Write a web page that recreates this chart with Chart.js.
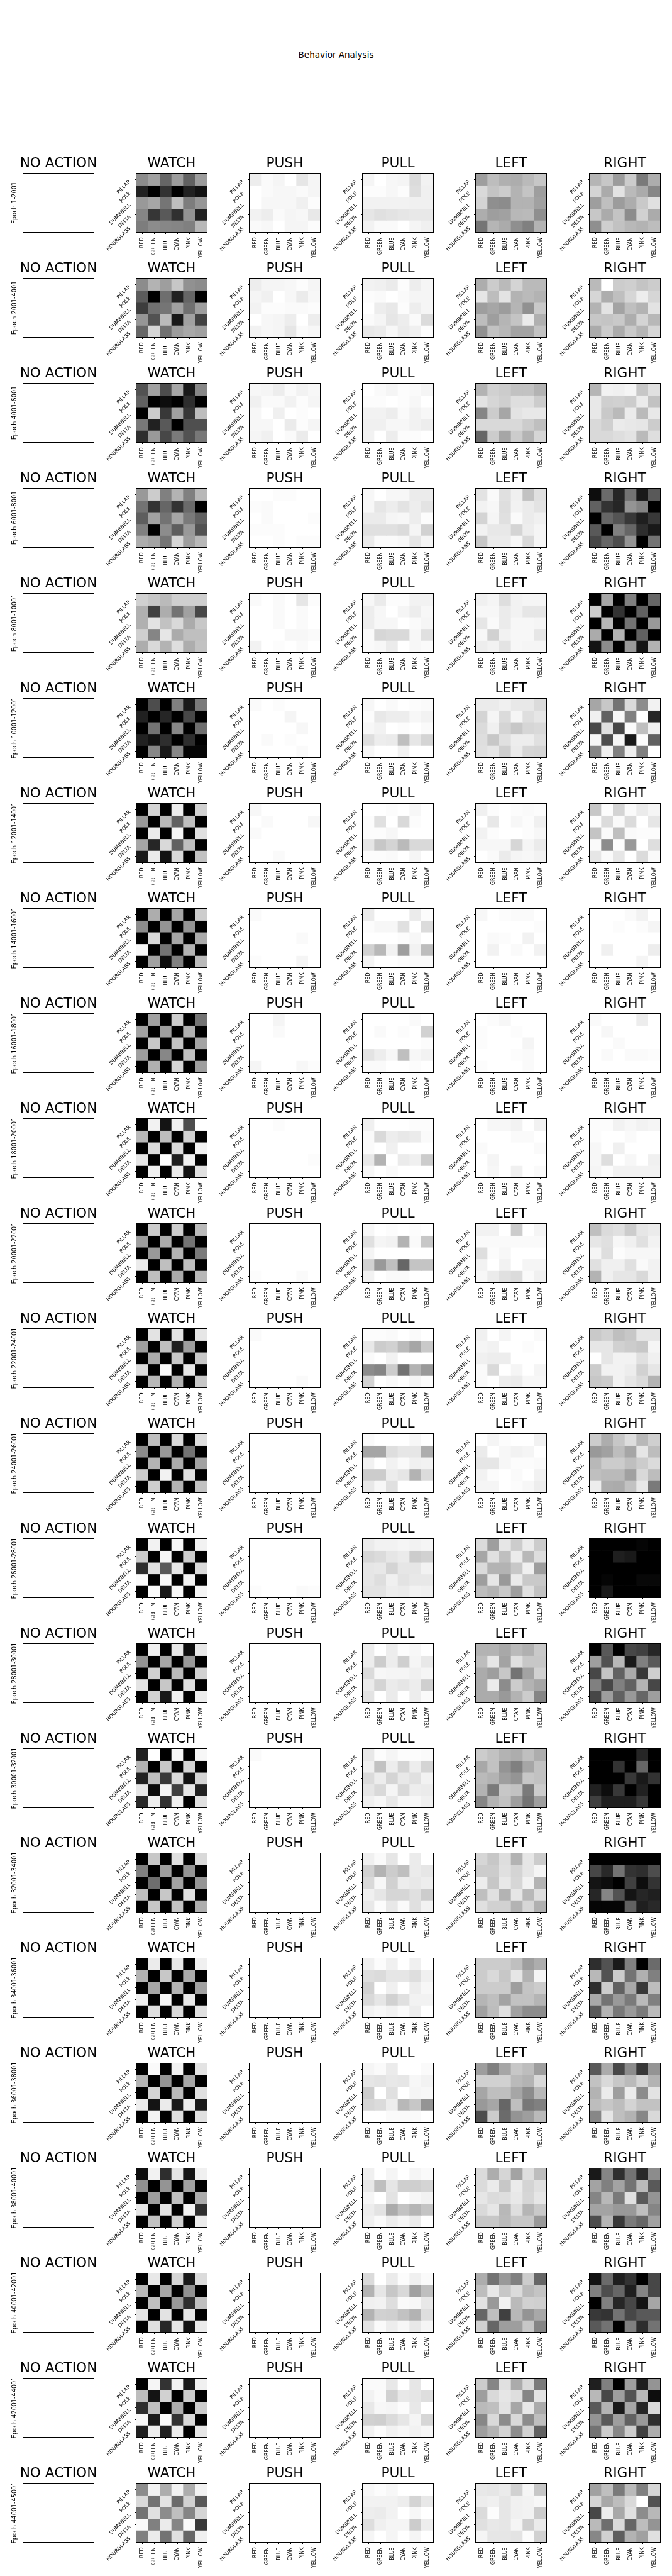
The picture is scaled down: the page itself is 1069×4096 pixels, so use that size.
<!DOCTYPE html>
<html>
<head>
<meta charset="utf-8">
<title>Behavior Analysis</title>
<script src="https://cdn.jsdelivr.net/npm/chart.js@4"></script>
<style>
  html, body { margin: 0; background: #fff; }
  #page { position: relative; width: 1069px; height: 4096px; overflow: hidden; }
  #page canvas { position: absolute; }
  #heading { position: absolute; left: 0; width: 1069px; top: 79px; text-align: center; color: #000;
    font: 13.5px/16px "DejaVu Sans", sans-serif; }
</style>
</head>
<body>
<div id="page"><div id="heading">Behavior Analysis</div></div>
<script>
const actions = ["NO ACTION", "WATCH", "PUSH", "PULL", "LEFT", "RIGHT"];
const colorLabels = ["RED", "GREEN", "BLUE", "CYAN", "PINK", "YELLOW"];
const shapeLabels = ["PILLAR", "POLE", "DUMBBELL", "DELTA", "HOURGLASS"];
const epochLabels = ["Epoch 1-2001", "Epoch 2001-4001", "Epoch 4001-6001", "Epoch 6001-8001", "Epoch 8001-10001",
  "Epoch 10001-12001", "Epoch 12001-14001", "Epoch 14001-16001", "Epoch 16001-18001", "Epoch 18001-20001",
  "Epoch 20001-22001", "Epoch 22001-24001", "Epoch 24001-26001", "Epoch 26001-28001", "Epoch 28001-30001",
  "Epoch 30001-32001", "Epoch 32001-34001", "Epoch 34001-36001", "Epoch 36001-38001", "Epoch 38001-40001",
  "Epoch 40001-42001", "Epoch 42001-44001", "Epoch 44001-45001"];

// darkness of each cell, 0 = white, 100 = black, one line per epoch, shape by shape
const noActionValues = [0,0,0,0,0,0, 0,0,0,0,0,0, 0,0,0,0,0,0, 0,0,0,0,0,0, 0,0,0,0,0,0];

const watchValues = [
  [45,37,60,39,62,39, 87,100,80,100,87,93, 40,35,54,25,51,41, 48,79,65,81,42,87, 51,45,47,48,50,28],
  [45,30,38,22,43,45, 64,100,57,87,60,100, 76,56,54,37,56,38, 41,68,27,90,37,74, 60,16,56,39,34,37],
  [68,37,70,35,90,47, 62,100,95,100,82,100, 100,20,78,37,78,26, 53,87,65,100,69,69, 82,40,72,52,68,53],
  [40,20,50,30,50,28, 55,80,60,80,58,100, 63,37,55,35,52,62, 50,100,45,63,40,68, 32,36,54,16,38,28],
  [18,22,27,19,19,19, 31,75,32,55,37,72, 31,11,24,15,33,22, 19,48,10,33,25,25, 32,15,30,13,32,24],
  [100,70,100,50,90,52, 87,100,85,100,72,100, 100,55,100,47,100,57, 87,93,82,100,82,100, 100,47,90,47,98,98],
  [100,17,100,7,100,18, 40,100,28,62,25,100, 100,8,100,4,100,12, 35,85,15,62,25,100, 90,8,93,15,100,24],
  [100,32,100,35,100,20, 45,100,42,100,42,100, 100,15,100,35,100,33, 3,100,55,100,30,100, 100,37,95,50,100,27],
  [100,37,100,20,100,55, 37,100,38,100,31,100, 100,22,100,23,100,36, 38,100,47,100,24,100, 100,31,100,17,100,38],
  [100,5,92,5,70,0, 28,100,26,100,18,100, 100,14,100,14,100,5, 10,100,0,88,6,100, 100,6,100,8,93,12],
  [100,20,100,20,100,27, 38,100,33,100,55,100, 100,40,100,30,100,52, 8,100,25,100,25,100, 100,25,100,33,100,28],
  [100,11,100,11,100,10, 38,100,25,88,38,100, 100,33,100,22,100,22, 14,100,2,100,10,100, 100,28,100,30,100,22],
  [100,25,100,15,100,13, 45,100,40,100,55,100, 100,30,100,33,100,37, 20,100,5,100,12,100, 100,19,100,30,100,24],
  [100,5,100,3,100,5, 20,100,4,100,20,100, 82,12,65,10,100,15, 2,100,2,100,5,100, 100,2,90,3,100,4],
  [100,6,100,9,95,9, 42,100,35,100,40,100, 100,18,100,27,100,18, 11,100,22,100,13,100, 100,18,90,6,100,7],
  [87,0,100,3,100,3, 30,100,22,100,17,100, 87,25,78,15,93,17, 10,96,4,75,10,87, 84,7,80,6,100,12],
  [100,22,100,12,100,15, 50,100,38,100,42,100, 100,57,100,37,100,42, 25,100,22,100,12,100, 100,22,100,24,100,32],
  [100,8,100,9,100,6, 30,100,22,100,33,100, 100,35,100,30,100,37, 7,100,4,100,9,100, 100,13,100,15,100,12],
  [100,2,100,5,100,11, 30,100,42,100,35,100, 100,17,100,27,100,12, 7,92,8,90,7,90, 100,5,100,13,100,12],
  [95,5,82,11,92,6, 43,100,42,100,37,100, 100,38,100,25,100,33, 10,100,11,100,5,82, 100,24,100,18,100,8],
  [100,9,100,16,90,14, 28,100,35,100,43,100, 100,25,100,40,82,25, 10,100,11,100,10,100, 100,12,85,10,92,8],
  [100,4,80,5,90,6, 26,92,18,100,20,100, 82,25,100,32,100,20, 3,90,2,80,15,100, 88,7,87,7,100,10],
  [45,5,32,5,32,5, 15,55,11,58,18,65, 55,12,45,25,48,17, 2,50,8,48,2,78, 50,8,55,12,60,6]
];

const pushValues = [
  [7,2,4,0,10,4, 0,2,3,3,2,4, 0,3,3,3,6,1, 5,7,2,4,3,9, 2,3,0,4,4,1],
  [7,4,4,3,1,4, 4,6,0,3,8,3, 5,1,1,2,2,1, 0,3,4,7,0,7, 5,3,4,10,2,3],
  [3,4,7,2,5,3, 6,2,2,5,1,4, 3,0,6,0,1,0, 3,3,0,8,1,4, 4,6,0,2,8,0],
  [0,0,1,1,0,0, 1,2,0,0,0,0, 0,2,0,0,0,1, 1,1,1,0,0,0, 0,0,1,0,1,1],
  [2,0,2,0,10,1, 0,0,2,0,2,0, 0,0,2,0,2,0, 0,0,0,3,3,2, 5,0,1,0,2,0],
  [2,0,1,0,0,0, 0,0,0,4,0,0, 0,0,0,0,3,0, 0,2,0,1,0,0, 0,0,0,0,2,0],
  [3,0,0,0,0,0, 0,2,0,0,0,3, 2,0,0,0,0,0, 0,0,0,0,0,0, 0,0,2,0,0,0],
  [2,0,0,0,0,0, 0,0,0,0,0,0, 0,0,0,0,2,0, 0,0,0,0,0,0, 1,0,0,0,4,0],
  [0,0,4,0,0,0, 0,0,2,0,0,0, 0,0,0,0,0,0, 0,0,0,0,0,0, 4,0,0,0,3,1],
  [0,0,1,0,0,0, 0,0,0,0,0,0, 0,0,0,0,0,0, 0,0,0,0,0,1, 0,0,0,0,0,0],
  [0,0,0,0,0,0, 0,0,0,0,0,0, 0,0,0,0,0,0, 0,0,0,0,0,0, 1,0,0,0,2,0],
  [2,0,0,0,0,0, 0,0,0,0,0,0, 0,0,0,0,0,0, 0,0,0,0,0,0, 0,0,0,0,2,0],
  [0,0,0,0,0,0, 0,0,0,0,0,0, 0,0,0,0,0,0, 0,0,0,0,0,0, 0,0,0,0,0,0],
  [0,0,0,0,0,0, 0,0,0,0,0,0, 0,0,0,0,0,0, 0,0,0,0,0,0, 1,0,0,0,2,1],
  [0,0,0,0,0,0, 0,0,0,0,0,0, 0,0,0,0,0,0, 0,0,0,0,0,0, 0,0,0,0,0,0],
  [2,0,0,0,0,0, 0,0,0,0,0,0, 0,0,0,0,0,0, 0,0,0,0,0,0, 0,0,0,0,0,0],
  [0,0,0,0,0,0, 0,0,0,0,0,0, 0,0,0,0,0,0, 0,0,0,0,0,0, 0,0,0,0,0,0],
  [0,0,0,0,0,0, 0,0,0,0,0,0, 0,0,0,0,0,0, 0,0,0,0,0,0, 0,0,0,0,0,0],
  [0,0,0,0,0,0, 0,0,0,0,0,0, 0,0,0,0,0,0, 0,0,0,0,0,0, 0,0,0,0,0,0],
  [0,0,0,0,0,0, 0,0,0,0,0,0, 0,0,0,0,0,0, 0,0,0,0,0,0, 0,0,0,0,0,0],
  [0,0,0,0,0,0, 0,0,0,0,0,0, 0,0,0,0,0,0, 0,0,0,0,0,0, 0,0,0,0,0,0],
  [0,0,0,0,0,0, 0,0,0,0,0,0, 0,0,0,0,0,0, 0,0,0,0,0,0, 0,0,0,0,0,0],
  [0,0,0,0,0,0, 0,0,0,0,0,0, 0,0,0,0,0,0, 0,0,0,0,0,0, 0,0,0,0,0,0]
];

const pullValues = [
  [4,0,3,4,14,5, 1,1,3,1,13,6, 5,5,5,5,6,6, 10,12,11,10,9,9, 5,2,2,0,4,6],
  [5,6,8,1,7,4, 1,2,0,2,4,4, 0,7,9,1,7,4, 2,4,10,7,2,14, 9,8,3,8,6,1],
  [0,2,4,1,2,4, 1,1,0,1,3,0, 5,5,7,2,5,3, 6,6,3,3,5,7, 5,0,7,1,1,0],
  [3,0,3,3,8,8, 3,10,7,11,7,11, 8,8,4,3,7,1, 12,12,12,14,4,18, 8,2,2,3,10,4],
  [3,8,1,1,5,5, 7,3,0,4,7,3, 7,3,3,0,2,4, 2,16,15,15,3,12, 2,3,8,0,3,2],
  [3,0,2,0,1,2, 1,9,7,7,3,5, 3,5,0,1,0,2, 13,7,8,25,10,17, 3,0,0,5,0,0],
  [0,0,1,0,3,0, 1,12,0,15,1,0, 1,1,3,0,0,0, 10,22,17,27,15,15, 1,1,2,0,4,0],
  [8,0,0,0,8,1, 1,3,3,12,0,14, 0,0,0,1,3,0, 18,28,5,38,5,26, 4,0,0,1,2,2],
  [0,0,0,0,2,0, 0,2,0,1,0,18, 0,0,0,0,0,1, 11,7,3,25,3,5, 2,2,0,0,1,0],
  [6,0,0,0,1,1, 2,15,7,9,8,2, 2,0,6,0,0,0, 9,30,0,8,6,20, 3,0,2,0,0,0],
  [3,0,1,0,1,0, 12,4,5,30,2,22, 4,0,0,0,0,0, 18,40,25,60,23,23, 5,0,2,2,0,0],
  [1,1,2,0,2,0, 9,20,18,27,35,21, 2,0,5,0,0,0, 45,48,20,55,30,40, 17,0,2,0,4,1],
  [2,0,0,0,3,0, 35,35,13,10,10,32, 5,0,5,2,6,5, 20,20,7,10,30,14, 9,3,12,0,0,0],
  [8,5,5,4,5,4, 16,14,10,8,20,18, 10,9,17,10,10,5, 10,13,6,11,9,9, 11,11,7,8,5,6],
  [7,0,7,1,3,0, 7,20,7,19,4,9, 14,3,4,4,6,4, 8,17,8,10,7,19, 11,0,8,0,7,2],
  [9,1,4,1,1,2, 6,24,7,17,7,17, 14,7,17,9,12,5, 10,15,4,15,7,8, 6,3,9,3,3,6],
  [6,2,10,0,8,0, 18,30,20,25,8,10, 15,3,18,7,9,7, 6,10,16,16,12,20, 9,1,9,2,12,5],
  [6,1,6,0,6,0, 13,14,10,10,13,6, 18,0,6,0,7,3, 15,10,18,12,5,5, 5,3,5,2,7,0],
  [4,2,8,0,0,2, 10,11,9,10,3,5, 20,0,12,0,4,3, 16,14,7,28,22,42, 0,0,2,2,2,0],
  [6,0,4,0,4,2, 9,25,10,19,19,17, 4,0,11,0,3,5, 7,11,33,24,29,23, 6,2,7,4,8,0],
  [14,0,8,1,6,2, 30,10,22,15,37,25, 6,5,13,2,3,9, 30,18,19,24,30,13, 11,2,7,3,9,4],
  [2,2,9,0,10,0, 5,2,18,9,10,13, 9,3,4,1,9,0, 18,19,14,10,4,16, 5,1,5,3,5,3],
  [3,1,3,0,0,0, 5,5,5,7,17,9, 7,8,5,0,3,0, 13,6,4,4,20,7, 4,0,4,0,4,0]
];

const leftValues = [
  [38,26,31,32,27,22, 15,23,20,30,23,38, 17,44,45,30,30,37, 32,38,37,28,27,44, 54,29,33,44,50,30],
  [32,20,27,17,27,27, 10,26,11,30,27,30, 38,35,39,29,43,21, 26,38,29,23,8,31, 43,24,28,36,36,24],
  [30,18,20,24,24,30, 11,16,19,13,13,20, 48,20,35,11,9,9, 15,15,15,15,20,25, 60,20,35,20,30,16],
  [11,2,12,6,24,12, 5,3,13,5,8,11, 17,4,12,2,8,6, 5,9,9,17,7,4, 22,8,8,3,15,4],
  [6,4,13,5,4,4, 3,3,8,5,10,10, 10,2,8,3,3,4, 3,18,5,3,3,10, 7,5,11,3,4,4],
  [8,8,6,9,9,14, 17,4,14,4,13,10, 14,6,17,22,16,15, 13,22,12,7,7,12, 12,10,19,8,16,17],
  [6,1,0,1,2,1, 0,9,0,3,1,6, 5,1,0,0,1,3, 3,3,3,16,4,8, 0,2,8,4,3,5],
  [3,0,1,2,2,0, 0,0,0,0,0,1, 0,2,1,0,5,0, 0,5,0,2,0,5, 0,0,0,0,0,0],
  [0,1,3,0,0,0, 1,0,0,1,0,0, 1,0,0,0,4,0, 0,0,0,1,2,0, 1,0,0,0,2,0],
  [0,3,3,5,0,5, 0,0,0,2,2,0, 2,0,0,0,0,2, 0,4,0,0,0,0, 0,3,0,6,0,2],
  [5,5,0,20,0,4, 2,2,2,2,2,2, 13,1,3,0,0,0, 5,0,5,0,4,4, 3,8,12,14,2,6],
  [6,0,4,0,0,2, 4,5,0,0,1,0, 6,7,7,0,0,0, 2,15,0,4,0,4, 2,0,7,8,3,3],
  [0,4,1,0,0,5, 8,0,3,5,4,0, 10,10,3,1,1,2, 5,1,0,2,0,5, 4,4,0,1,3,7],
  [14,38,10,20,8,20, 35,12,25,8,28,13, 14,30,30,22,6,38, 38,10,40,8,21,21, 26,30,21,38,12,24],
  [30,30,34,27,31,21, 26,10,36,12,22,22, 33,38,22,55,36,18, 33,8,45,20,30,35, 33,33,40,30,20,48],
  [20,24,30,32,25,32, 34,24,42,50,35,24, 27,30,38,42,22,24, 30,52,22,24,52,20, 48,30,24,38,55,38],
  [16,22,13,30,10,20, 20,20,12,17,10,4, 7,22,9,16,5,30, 25,12,30,10,28,13, 12,18,18,30,16,31],
  [20,20,20,25,38,32, 20,15,22,10,30,4, 20,20,20,38,23,20, 29,25,36,24,24,29, 37,26,12,37,45,45],
  [38,50,35,22,26,38, 18,18,18,27,30,15, 35,25,25,35,45,28, 40,35,60,25,53,50, 70,20,58,42,38,27],
  [14,32,16,36,13,26, 14,8,22,8,17,12, 10,14,13,9,16,10, 15,10,28,13,29,21, 22,22,27,22,22,40],
  [32,55,40,50,20,60, 26,9,22,14,27,23, 11,40,5,27,18,19, 60,25,75,28,42,34, 18,60,38,38,22,48],
  [20,48,12,33,15,52, 38,15,10,13,48,11, 27,25,11,35,9,33, 47,15,45,15,45,25, 38,30,17,45,18,62],
  [9,10,8,18,4,22, 7,6,10,6,5,3, 14,1,10,6,5,20, 12,9,10,4,19,8, 4,10,10,11,1,18]
];

const rightValues = [
  [29,22,39,20,52,32, 17,33,11,27,33,47, 38,25,39,32,21,12, 22,33,23,45,18,33, 44,19,24,28,30,26],
  [27,0,20,19,23,20, 16,32,25,16,7,16, 30,11,36,25,30,11, 22,23,21,32,17,28, 33,20,33,21,29,16],
  [29,5,6,4,22,12, 9,19,18,20,8,24, 9,21,27,8,27,9, 15,19,8,9,10,20, 15,15,13,11,27,13],
  [95,58,85,55,90,65, 62,80,85,42,48,100, 100,60,67,78,88,78, 65,100,50,60,82,90, 72,60,70,42,100,55],
  [100,35,100,50,100,60, 20,100,80,100,62,100, 100,28,100,55,100,40, 33,100,30,100,62,100, 92,45,100,40,92,30],
  [35,22,55,14,45,5, 6,62,3,50,0,85, 72,12,72,2,25,6, 4,70,4,90,1,62, 48,6,50,7,50,0],
  [22,1,17,2,8,4, 1,14,2,14,0,10, 23,2,25,2,1,1, 2,45,1,40,0,13, 10,2,10,0,14,2],
  [0,0,0,2,5,0, 0,0,1,0,1,4, 0,0,0,0,0,0, 0,6,0,0,0,7, 0,0,0,0,4,0],
  [2,0,0,0,7,0, 0,3,0,0,0,0, 0,0,2,0,0,0, 0,2,0,2,2,1, 0,0,0,0,0,0],
  [1,1,5,3,5,4, 1,0,0,2,0,0, 3,0,6,0,0,0, 3,13,0,3,0,6, 4,1,5,5,5,5],
  [25,14,12,20,10,8, 10,12,3,6,12,5, 4,13,1,3,3,3, 12,6,6,12,2,5, 30,6,10,10,15,5],
  [21,18,25,22,10,10, 10,10,18,20,22,4, 0,10,5,5,12,6, 20,5,5,7,18,10, 22,20,5,10,14,30],
  [20,32,22,13,28,19, 40,37,26,35,10,26, 28,20,20,25,20,14, 25,27,27,37,15,26, 7,32,33,24,9,52],
  [100,100,100,100,98,100, 100,100,88,90,100,100, 100,100,100,100,100,100, 100,98,100,100,97,97, 100,90,100,100,100,100],
  [100,65,100,72,75,85, 38,68,28,90,50,65, 72,23,62,33,78,19, 50,72,50,62,30,72, 72,38,62,40,60,38],
  [100,100,100,100,85,100, 100,100,80,100,60,100, 100,100,100,78,90,80, 87,95,78,100,87,100, 75,88,88,88,78,100],
  [100,100,100,100,100,100, 72,84,55,80,82,70, 92,95,100,75,95,80, 85,48,68,92,85,88, 98,98,98,62,88,84],
  [82,68,90,50,100,58, 28,68,20,55,31,50, 82,20,62,34,78,26, 34,55,40,52,27,50, 65,30,53,40,52,27],
  [65,33,72,45,78,42, 24,15,22,27,17,30, 30,8,38,8,45,11, 26,22,26,17,24,24, 47,10,25,30,47,15],
  [90,48,82,55,84,45, 36,50,36,55,27,65, 48,28,52,12,65,42, 36,36,40,40,25,48, 70,29,78,52,60,37],
  [93,58,88,80,100,72, 50,70,60,88,48,72, 100,50,85,72,92,35, 78,80,55,72,65,65, 65,55,100,50,82,55],
  [88,50,100,38,88,42, 28,72,38,68,28,95, 65,30,90,35,85,15, 42,65,38,62,40,82, 55,20,47,20,75,32],
  [37,25,52,27,50,16, 17,34,26,15,0,68, 72,7,34,12,45,28, 27,57,14,60,26,42, 47,18,63,30,37,12]
];

const valuesByAction = [null, watchValues, pushValues, pullValues, leftValues, rightValues];

// layout of the grid, in window pixels
const axesLefts = [37, 217, 397, 577, 757, 938];
const axesWidth = 112;
const axesHeight = 93;
const firstAxesTop = 275.8;
const rowPitch = 166.98;
const titleBlock = 32;
const bottomBlock = 47;

Chart.defaults.font.family = '"DejaVu Sans", sans-serif';
Chart.defaults.color = "#000";

const page = document.getElementById("page");

function shade(v) {
  const g = Math.round(255 * (1 - v / 100));
  return `rgb(${g},${g},${g})`;
}

// matplotlib style box round the axes, title centred over them, slanted labels nudged onto their ticks
const axesFrame = {
  id: "axesFrame",
  beforeDraw(chart) {
    const a = chart.chartArea;
    chart.titleBlock.left = a.left - 40;
    chart.titleBlock.right = a.right + 40;
    const y = chart.scales.y;
    if (y.options.ticks.display) {
      y.getLabelItems(a).forEach(item => { item.options.translation[1] += 2.5; });
    }
  },
  afterDraw(chart) {
    const { ctx, chartArea: a } = chart;
    ctx.save();
    ctx.strokeStyle = "#000";
    ctx.lineWidth = 1;
    ctx.strokeRect(a.left - 0.5, a.top - 0.5, a.right - a.left + 1, a.bottom - a.top + 1);
    ctx.restore();
  }
};

function fixedWidth(w) {
  return scale => {
    scale.width = w;
    scale.paddingLeft = scale.paddingRight = scale.paddingTop = scale.paddingBottom = 0;
  };
}
function fixedHeight(h) {
  return scale => {
    scale.height = h;
    scale.paddingLeft = scale.paddingRight = scale.paddingTop = scale.paddingBottom = 0;
  };
}

function drawPanel(row, col) {
  const isFirst = col === 0;
  const values = isFirst ? noActionValues : valuesByAction[col][row];
  const side = isFirst ? 36 : 56;
  const top = Math.round(firstAxesTop + row * rowPitch);

  const canvas = document.createElement("canvas");
  canvas.width = side * 2 + axesWidth;
  canvas.height = titleBlock + axesHeight + bottomBlock;
  canvas.style.left = (axesLefts[col] - side) + "px";
  canvas.style.top = (top - titleBlock) + "px";
  page.appendChild(canvas);

  const datasets = shapeLabels.map((shape, r) => ({
    label: shape,
    data: colorLabels.map(() => [r, r + 1]),
    backgroundColor: colorLabels.map((c, k) => shade(values[r * 6 + k])),
    borderWidth: 0,
    grouped: false,
    barPercentage: 1,
    categoryPercentage: 1
  }));

  new Chart(canvas, {
    type: "bar",
    data: { labels: colorLabels, datasets },
    plugins: [axesFrame],
    options: {
      responsive: false,
      animation: false,
      events: [],
      layout: { padding: { left: 0, right: side, top: 0, bottom: 0 } },
      plugins: {
        legend: { display: false },
        tooltip: { enabled: false },
        title: {
          display: true,
          text: actions[col],
          color: "#000",
          font: { size: 21.7, weight: "normal", lineHeight: 1.2 },
          padding: { top: 3, bottom: 2.96 }
        }
      },
      scales: {
        x: {
          offset: true,
          border: { display: false },
          grid: { display: !isFirst, offset: false, drawOnChartArea: false, drawTicks: true, tickLength: 3, tickWidth: 1, tickColor: "#000" },
          ticks: { display: !isFirst, autoSkip: false, minRotation: 90, maxRotation: 90, padding: 5.4, color: "#000", font: { size: 8 } },
          afterFit: fixedHeight(bottomBlock)
        },
        y: {
          type: "linear",
          min: 0,
          max: shapeLabels.length,
          reverse: true,
          border: { display: false },
          grid: { display: !isFirst, offset: false, drawOnChartArea: false, drawTicks: true, tickLength: 3, tickWidth: 1, tickColor: "#000" },
          title: {
            display: isFirst,
            text: epochLabels[row],
            color: "#000",
            font: { size: 9.7, weight: "normal" },
            padding: { top: 16.4, bottom: 0 }
          },
          afterBuildTicks: scale => {
            scale.ticks = shapeLabels.map((s, i) => ({ value: i + 0.5 }));
          },
          ticks: {
            display: !isFirst,
            autoSkip: false,
            minRotation: 45,
            maxRotation: 45,
            padding: 7.4,
            color: "#000",
            font: { size: 8 },
            callback: value => shapeLabels[Math.floor(value)]
          },
          afterFit: fixedWidth(side)
        }
      }
    }
  });
}

epochLabels.forEach((label, row) => {
  actions.forEach((action, col) => drawPanel(row, col));
});
</script>
</body>
</html>
